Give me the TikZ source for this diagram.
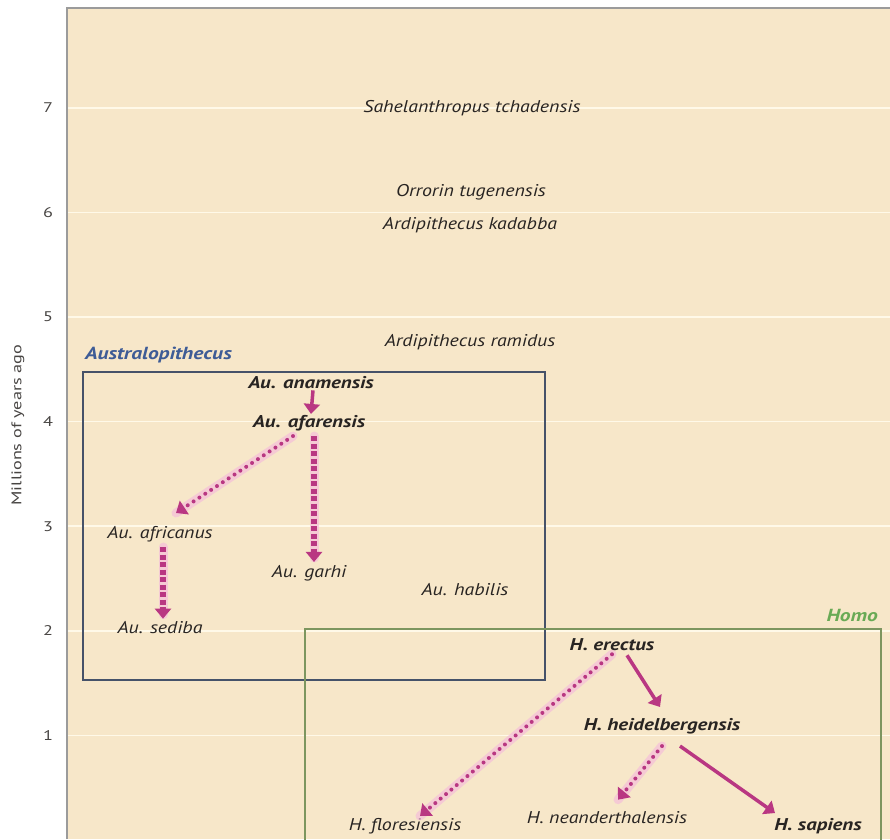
\documentclass[tikz,border=0pt]{standalone}
\usepackage{fontspec}
\setmainfont{PT Sans}
\usetikzlibrary{arrows.meta}
\definecolor{panel}{RGB}{247,231,201}
\definecolor{gridline}{RGB}{255,249,232}
\definecolor{frame}{RGB}{155,155,155}
\definecolor{australo}{RGB}{70,82,105}
\definecolor{australotxt}{RGB}{62,92,150}
\definecolor{homobox}{RGB}{125,150,95}
\definecolor{homotxt}{RGB}{105,170,85}
\definecolor{lineage}{RGB}{185,55,130}
\definecolor{halo}{RGB}{245,190,218}
\definecolor{ink}{RGB}{40,36,34}
% labels are set in a slightly widened face
\newcommand\regname[1]{\scalebox{1.17}[1]{#1}}
\newcommand\boldname[1]{\scalebox{1.23}[1]{#1}}
\newcommand\axisname[1]{\scalebox{1.3}[1]{#1}}
\tikzset{
  species/.style={font=\fontsize{17}{19}\selectfont\itshape, text=ink, inner sep=1pt},
  keyspecies/.style={species, font=\fontsize{17}{19}\selectfont\bfseries\itshape},
  genuslabel/.style={font=\fontsize{17.5}{19}\selectfont\bfseries\itshape, inner sep=0pt},
  tick/.style={font=\fontsize{14}{16}\selectfont, text=ink!85},
  genusbox/.style={line width=1.2pt},
  tipshape/.style={-{Triangle[length=10pt,width=16pt]}},
  solidarrow/.style={tipshape, draw=lineage, line width=3.5pt},
  squaredots/.style={tipshape, draw=lineage, line width=6pt, dash pattern=on 5pt off 2.5pt},
  rounddots/.style={tipshape, draw=lineage, line width=4pt, line cap=round, dash pattern=on 0pt off 7pt},
  glow/.style={draw=halo, line width=9pt, opacity=0.7, line cap=round},
}
\begin{document}
\begin{tikzpicture}[x=1pt,y=-1pt]
\useasboundingbox (0,0) rectangle (890,839);
\fill[white] (0,0) rectangle (890,839);
% plotting panel with its frame
\fill[panel] (67,8) rectangle (890,839);
\draw[frame, line width=1.2pt] (67,839) -- (67,8) -- (890,8);
% grid lines, one per million years
\foreach \t in {1,...,7}{
  \draw[gridline, line width=1.6pt] (68,{840-104.6*\t}) -- (890,{840-104.6*\t});
  \node[tick] (tick\t) at (48,{840-104.6*\t}) {\axisname{\t}};
}
\node[tick, rotate=90] (axis) at (18,425) {\axisname{Millions of years ago}};

% genus boxes
\draw[australo, genusbox] (83,372) rectangle (545,680);
\node[genuslabel, text=australotxt, anchor=west] (austlabel) at (85,355) {\boldname{Australopithecus}};
\draw[homobox, genusbox] (305,629) rectangle (881,845);
\node[genuslabel, text=homotxt, anchor=east] (homolabel) at (878,615) {\boldname{Homo}};

% early hominins
\node[species] (sahel) at (472,108) {\regname{Sahelanthropus tchadensis}};
\node[species] (orrorin) at (471,192) {\regname{Orrorin tugenensis}};
\node[species] (kadabba) at (470,225) {\regname{Ardipithecus kadabba}};
\node[species] (ramidus) at (470,342) {\regname{Ardipithecus ramidus}};

% Australopithecus
\node[keyspecies] (anam) at (311,383) {\boldname{Au. anamensis}};
\node[keyspecies] (afar) at (309,423) {\boldname{Au. afarensis}};
\node[species] (afric) at (160,534) {\regname{Au. africanus}};
\node[species] (garhi) at (309,573) {\regname{Au. garhi}};
\node[species] (habilis) at (465,590) {\regname{Au. habilis}};
\node[species] (sediba) at (160,628) {\regname{Au. sediba}};

% Homo
\node[keyspecies] (erectus) at (612,645) {\boldname{H. erectus}};
\node[keyspecies] (heidel) at (662,726) {\boldname{H. heidelbergensis}};
\node[species] (flores) at (405,826) {\regname{H. floresiensis}};
\node[species] (neander) at (607,818) {\regname{H. neanderthalensis}};
\node[keyspecies] (sapiens) at (818,826) {\boldname{H. sapiens}};

% soft halos under the uncertain lineages
\draw[glow] ([xshift=-16pt,yshift=-4pt]afar.south) -- ([xshift=16pt,yshift=12pt]afric.north);
\draw[glow] ([xshift=5pt,yshift=-4pt]afar.south) -- ([xshift=5pt,yshift=6pt]garhi.north);
\draw[glow] ([xshift=3pt,yshift=-4pt]afric.south) -- ([xshift=3pt,yshift=6pt]sediba.north);
\draw[glow] ([yshift=-2pt]erectus.south) -- ([xshift=15pt,yshift=1pt]flores.north);
\draw[glow] ([yshift=-11pt]heidel.south) -- ([xshift=11pt,yshift=11pt]neander.north);

% lineages
\draw[solidarrow] ([xshift=2pt]anam.south) -- ([xshift=2pt]afar.north);
\draw[squaredots] ([xshift=5pt,yshift=-4pt]afar.south) -- ([xshift=5pt,yshift=2pt]garhi.north);
\draw[rounddots] ([xshift=-16pt,yshift=-4pt]afar.south) -- ([xshift=16pt,yshift=12pt]afric.north);
\draw[squaredots] ([xshift=3pt,yshift=-4pt]afric.south) -- ([xshift=3pt,yshift=2pt]sediba.north);
\draw[rounddots] ([yshift=-2pt]erectus.south) -- ([xshift=15pt,yshift=1pt]flores.north);
\draw[solidarrow] ([xshift=15pt,yshift=-3pt]erectus.south) -- ([xshift=-2pt,yshift=10pt]heidel.north);
\draw[rounddots] ([yshift=-11pt]heidel.south) -- ([xshift=11pt,yshift=11pt]neander.north);
\draw[solidarrow] ([xshift=18pt,yshift=-11pt]heidel.south) -- ([xshift=-43pt,yshift=4pt]sapiens.north);
\end{tikzpicture}
\end{document}
